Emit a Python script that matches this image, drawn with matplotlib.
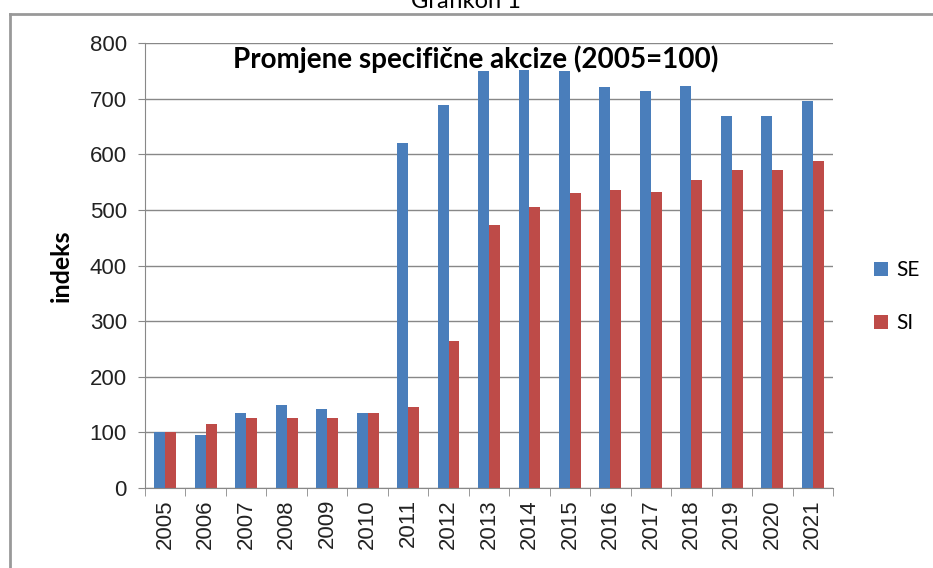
import numpy as np
import matplotlib.pyplot as plt
from matplotlib.lines import Line2D

# podaci (indeks, 2005=100)
godine = [str(g) for g in range(2005, 2022)]
se = [100, 96, 135, 150, 142, 135, 620, 688, 750, 751, 749, 721, 714, 723, 668, 668, 696]
si = [100, 115, 125, 125, 125, 135, 145, 265, 472, 505, 530, 535, 532, 553, 572, 572, 587]

plava = '#4a7ebb'
crvena = '#be4b48'

fig = plt.figure(figsize=(9.33, 5.68), dpi=100)
ax = fig.add_axes([145 / 933, 1 - 488 / 568, 688 / 933, 445 / 568])

x = np.arange(len(godine))
w = 0.27
ax.bar(x - w / 2, se, w, color=plava, label='SE', zorder=2)
ax.bar(x + w / 2, si, w, color=crvena, label='SI', zorder=2)

ax.set_xlim(-0.5, len(godine) - 0.5)
ax.set_ylim(0, 800)
ax.set_yticks(range(0, 801, 100))
ax.set_yticklabels([str(v) for v in range(0, 801, 100)], family='Liberation Sans', fontsize=16, color='#222222')
ax.set_xticks(x)
ax.set_xticklabels(godine, rotation=90, family='Liberation Sans', fontsize=16, color='#222222')
ax.set_xticks(np.arange(-0.5, len(godine)), minor=True)
ax.tick_params(axis='x', which='major', length=0, pad=8)
ax.tick_params(axis='x', which='minor', length=6, color='#888888', direction='out')
ax.tick_params(axis='y', length=5, color='#888888', direction='out', pad=8)

ax.grid(axis='y', color='#888888', linewidth=1, zorder=0)
for s in ['top', 'right']:
    ax.spines[s].set_visible(False)
for s in ['left', 'bottom']:
    ax.spines[s].set_color('#888888')

ax.set_ylabel('indeks', family='Lato', fontweight='bold', fontsize=18, labelpad=12)
ax.text(0.48, 0.995, 'Promjene specifične akcize (2005=100)', transform=ax.transAxes,
        ha='center', va='top', family='Lato', fontweight='bold', fontsize=20, zorder=5)

leg = ax.legend(loc='center left', bbox_to_anchor=(1.048, 0.43), frameon=False,
                prop={'family': 'Lato', 'size': 15}, handlelength=0.65, handleheight=0.65,
                handletextpad=0.4, labelspacing=1.6, borderaxespad=0)

# okvir oko grafikona
fig.add_artist(Line2D([10 / 933, 10 / 933], [0, 1 - 14 / 568], transform=fig.transFigure,
                      color='#999999', linewidth=2))
fig.add_artist(Line2D([10 / 933, 1], [1 - 14 / 568, 1 - 14 / 568], transform=fig.transFigure,
                      color='#999999', linewidth=2))
fig.text(466 / 933, 1 - 8 / 568, 'Grafikon 1', ha='center', va='baseline', family='Lato', fontsize=17)

fig.savefig('out.png', dpi=100)
